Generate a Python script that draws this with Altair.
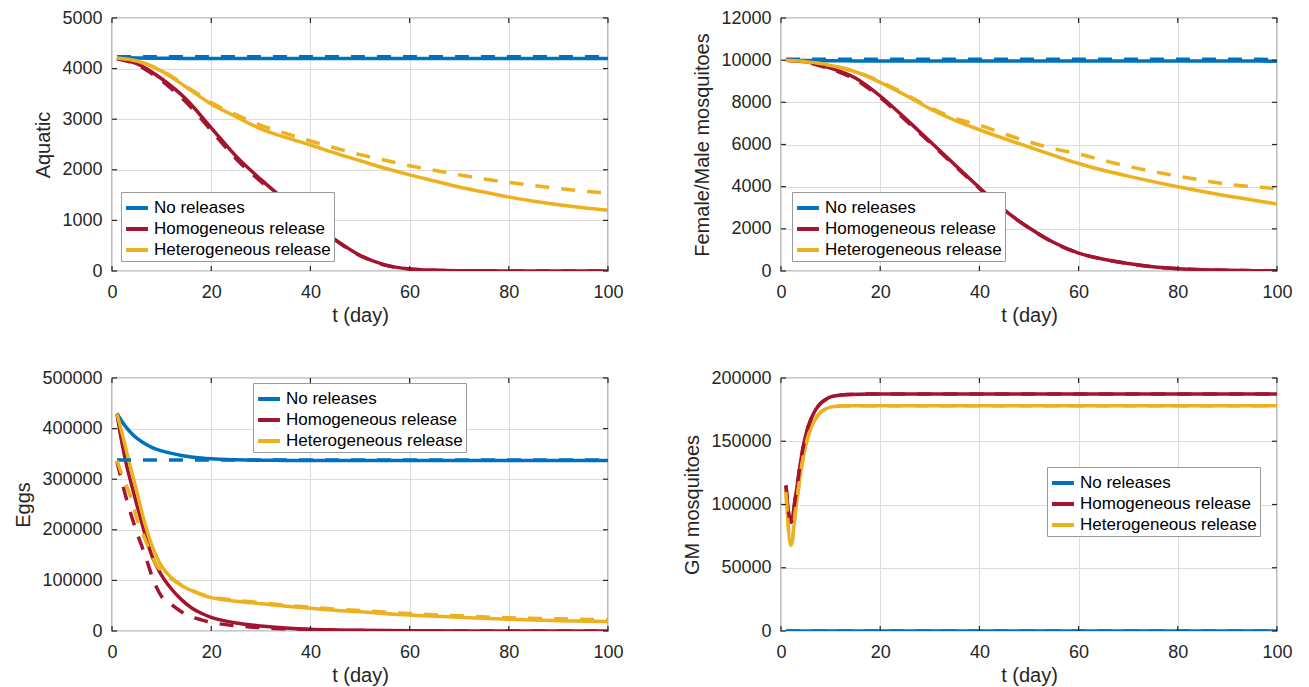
import altair as alt
import pandas as pd

SERIES = ["No releases", "Homogeneous release", "Heterogeneous release"]
COLORS = ["#0072BD", "#A2142F", "#EDB120"]
X_TICKS = [0, 20, 40, 60, 80, 100]

# ---------- Panel 1: Aquatic ----------
AQ_DAYS = [1, 5, 10, 15, 20, 25, 30, 35, 40, 45, 50, 55, 60, 65, 70, 75, 80, 85, 90, 95, 100]
AQ_NONE = [4220, 4210, 4205, 4200, 4200, 4200, 4200, 4200, 4200, 4200, 4200,
           4200, 4200, 4200, 4200, 4200, 4200, 4200, 4200, 4200, 4200]
AQ_NONE_D = [4235, 4235, 4235, 4235, 4235, 4235, 4235, 4235, 4235, 4235, 4235,
             4235, 4235, 4235, 4235, 4235, 4235, 4235, 4235, 4235, 4235]
AQ_HOMO = [4200, 4100, 3800, 3390, 2830, 2270, 1810, 1390, 990, 620, 310,
           120, 40, 15, 6, 3, 1, 0, 0, 0, 0]
AQ_HOMO_D = [4200, 4080, 3760, 3330, 2780, 2220, 1770, 1360, 970, 610, 305,
             118, 40, 15, 6, 3, 1, 0, 0, 0, 0]
AQ_HET = [4210, 4150, 3950, 3630, 3300, 3050, 2810, 2640, 2490, 2330, 2180,
          2030, 1900, 1780, 1660, 1560, 1460, 1380, 1310, 1250, 1200]
AQ_HET_D = [4210, 4150, 3960, 3650, 3330, 3090, 2880, 2720, 2570, 2430, 2300,
            2190, 2080, 1990, 1900, 1820, 1750, 1690, 1630, 1580, 1540]
AQ_TICKS = [0, 1000, 2000, 3000, 4000, 5000]

# ---------- Panel 2: Female/Male mosquitoes ----------
FM_DAYS = [1, 5, 10, 15, 20, 25, 30, 35, 40, 45, 50, 55, 60, 65, 70, 75, 80, 85, 90, 95, 100]
FM_NONE = [10000, 9980, 9970, 9965, 9960, 9960, 9960, 9960, 9960, 9960, 9960,
           9960, 9960, 9960, 9960, 9960, 9960, 9960, 9960, 9960, 9950]
FM_NONE_D = [10040, 10040, 10040, 10040, 10040, 10040, 10040, 10040, 10040, 10040, 10040,
             10040, 10040, 10040, 10040, 10040, 10040, 10040, 10040, 10040, 10030]
FM_HOMO = [10000, 9920, 9620, 9150, 8300, 7250, 6150, 5050, 3950, 2900, 2050,
           1350, 850, 560, 360, 200, 110, 60, 30, 15, 10]
FM_HOMO_D = [10000, 9900, 9580, 9080, 8230, 7180, 6100, 5000, 3920, 2880, 2040,
             1340, 845, 555, 355, 200, 110, 60, 30, 15, 10]
FM_HET = [10000, 9930, 9750, 9450, 8950, 8350, 7700, 7150, 6700, 6280, 5880,
          5480, 5100, 4780, 4500, 4240, 4000, 3770, 3560, 3370, 3180]
FM_HET_D = [10000, 9930, 9760, 9470, 8980, 8400, 7760, 7250, 6920, 6500, 6130,
            5800, 5550, 5250, 4960, 4720, 4500, 4300, 4120, 4000, 3900]
FM_TICKS = [0, 2000, 4000, 6000, 8000, 10000, 12000]

# ---------- Panel 3: Eggs ----------
EG_DAYS = [1, 2, 3, 4, 5, 6, 7, 8, 9, 10, 12, 14, 16, 18, 20, 25, 30, 35, 40, 45, 50, 60, 70, 80, 90, 100]
EG_NONE = [430000, 414000, 401000, 390000, 381000, 374000, 368000, 363000, 359000, 356000,
           351000, 347000, 344000, 342000, 340500, 338500, 337500, 337200, 337000, 337000,
           337000, 337000, 337000, 337000, 337000, 337000]
EG_NONE_D = [338000, 338000, 338000, 338000, 338000, 338000, 338000, 338000, 338000, 338000,
             338000, 338000, 338000, 338000, 338000, 338000, 338000, 338000, 338000, 338000,
             338000, 338000, 338000, 338000, 338000, 338000]
EG_HOMO = [429000, 372000, 325000, 287000, 250000, 214000, 180000, 150000, 128000, 110000,
           83000, 62000, 46000, 35000, 27000, 16000, 10000, 6000, 3500, 2200,
           1300, 500, 200, 80, 30, 10]
EG_HOMO_D = [335000, 295000, 258000, 225000, 195000, 168000, 140000, 110000, 86000, 68000,
             52000, 38000, 28000, 22000, 17000, 10500, 6500, 4200, 2500, 1500,
             900, 300, 120, 50, 20, 10]
EG_HET = [429000, 392000, 352000, 314000, 276000, 236000, 200000, 170000, 147000, 128000,
          105000, 90000, 80000, 72000, 66000, 59000, 54000, 49000, 45000, 41000,
          38000, 31500, 27000, 23000, 20500, 19000]
EG_HET_D = [337000, 309000, 285000, 258000, 222000, 198000, 173000, 150000, 130000, 118000,
            103000, 91000, 81000, 73000, 67500, 60500, 56000, 51000, 47000, 43500,
            40500, 34500, 30000, 26000, 24000, 22000]
EG_TICKS = [0, 100000, 200000, 300000, 400000, 500000]

# ---------- Panel 4: GM mosquitoes ----------
GM_DAYS = [1, 2, 3, 4, 5, 6, 7, 8, 9, 10, 12, 14, 16, 18, 20, 30, 40, 50, 60, 70, 80, 90, 100]
GM_NONE = [0, 0, 0, 0, 0, 0, 0, 0, 0, 0, 0, 0, 0, 0, 0, 0, 0, 0, 0, 0, 0, 0, 0]
GM_HOMO = [115000, 86000, 108000, 135000, 155000, 167000, 175000, 180000, 183000, 185000,
           186500, 187000, 187200, 187300, 187300, 187300, 187300, 187300, 187300, 187300,
           187300, 187300, 187300]
GM_HET = [110000, 68000, 97000, 126000, 147000, 160000, 168000, 173000, 175500, 177000,
          177800, 178000, 178000, 178000, 178000, 178000, 178000, 178000, 178000, 178000,
          178000, 178000, 178000]
GM_TICKS = [0, 50000, 100000, 150000, 200000]

FONT = "Liberation Sans"
W, H = 496, 253
TICK_LEN = 5
AX_COLOR = "#262626"


def frame(days, values_by_series):
    rows = []
    for name, vals in zip(SERIES, values_by_series):
        for d, v in zip(days, vals):
            rows.append({"day": d, "value": v, "series": name})
    return pd.DataFrame(rows)


def panel(days, solid, dashed, ytitle, yticks, lx, ly):
    xenc = alt.X("day:Q", scale=alt.Scale(domain=[0, 100], nice=False),
                 axis=alt.Axis(values=X_TICKS, title="t (day)", format="d"))
    yenc = alt.Y("value:Q", scale=alt.Scale(domain=[yticks[0], yticks[-1]], nice=False),
                 axis=alt.Axis(values=yticks, title=ytitle, format="d"))
    solid_layer = alt.Chart(frame(days, solid)).mark_line(
        strokeWidth=3.5, interpolate="monotone", clip=True
    ).encode(
        x=xenc, y=yenc,
        color=alt.Color("series:N", sort=SERIES,
                        scale=alt.Scale(domain=SERIES, range=COLORS),
                        legend=alt.Legend(orient="none", legendX=lx, legendY=ly, title=None,
                                          symbolType="stroke", symbolStrokeWidth=4,
                                          symbolSize=480, labelFontSize=17, labelFont=FONT,
                                          labelColor="#000000", labelLimit=400,
                                          strokeColor="#9a9a9a", fillColor="#ffffff",
                                          padding=3, rowPadding=0, labelOffset=4)),
    )
    dashed_layer = alt.Chart(frame(days, dashed)).mark_line(
        strokeWidth=3.5, strokeDash=[14, 12], interpolate="monotone", clip=True
    ).encode(
        x=xenc, y=yenc,
        stroke=alt.Stroke("series:N", sort=SERIES,
                          scale=alt.Scale(domain=SERIES, range=COLORS), legend=None),
    )
    xt = alt.Chart(pd.DataFrame({"day": X_TICKS}))
    yt = alt.Chart(pd.DataFrame({"value": yticks}))
    rule = dict(color=AX_COLOR, strokeWidth=1.2)
    tick_bottom = xt.mark_rule(**rule).encode(x=xenc, y=alt.value(H), y2=alt.value(H - TICK_LEN))
    tick_top = xt.mark_rule(**rule).encode(x=xenc, y=alt.value(0), y2=alt.value(TICK_LEN))
    tick_left = yt.mark_rule(**rule).encode(y=yenc, x=alt.value(0), x2=alt.value(TICK_LEN))
    tick_right = yt.mark_rule(**rule).encode(y=yenc, x=alt.value(W), x2=alt.value(W - TICK_LEN))
    return alt.layer(solid_layer, dashed_layer, tick_bottom, tick_top, tick_left,
                     tick_right).properties(width=W, height=H)


p1 = panel(AQ_DAYS, [AQ_NONE, AQ_HOMO, AQ_HET], [AQ_NONE_D, AQ_HOMO_D, AQ_HET_D],
           "Aquatic", AQ_TICKS, 9, 174)
p2 = panel(FM_DAYS, [FM_NONE, FM_HOMO, FM_HET], [FM_NONE_D, FM_HOMO_D, FM_HET_D],
           "Female/Male mosquitoes", FM_TICKS, 11, 174)
p3 = panel(EG_DAYS, [EG_NONE, EG_HOMO, EG_HET], [EG_NONE_D, EG_HOMO_D, EG_HET_D],
           "Eggs", EG_TICKS, 141, 5)
p4 = panel(GM_DAYS, [GM_NONE, GM_HOMO, GM_HET], [GM_NONE, GM_HOMO, GM_HET],
           "GM mosquitoes", GM_TICKS, 266, 89)

chart = alt.concat(
    p1, p2, p3, p4, columns=2, spacing={"row": 107, "column": 173}, bounds="flush"
).resolve_scale(
    color="independent", stroke="independent", x="independent", y="independent"
).properties(
    padding={"left": 5, "top": 0, "right": 5, "bottom": 0}
).configure_axis(
    labelFont=FONT, titleFont=FONT, labelFontSize=18, titleFontSize=20,
    titleFontWeight="normal", labelColor="#262626", titleColor="#262626",
    gridColor="#dcdcdc", gridWidth=1, domain=False, ticks=False, labelPadding=10,
    labelFlush=False,
).configure_axisX(
    labelPadding=12, titlePadding=4
).configure_axisY(
    titlePadding=8
).configure_view(
    stroke=AX_COLOR, strokeWidth=1.2
)

chart.save("out.html", embed_options={"renderer": "svg", "actions": False})
